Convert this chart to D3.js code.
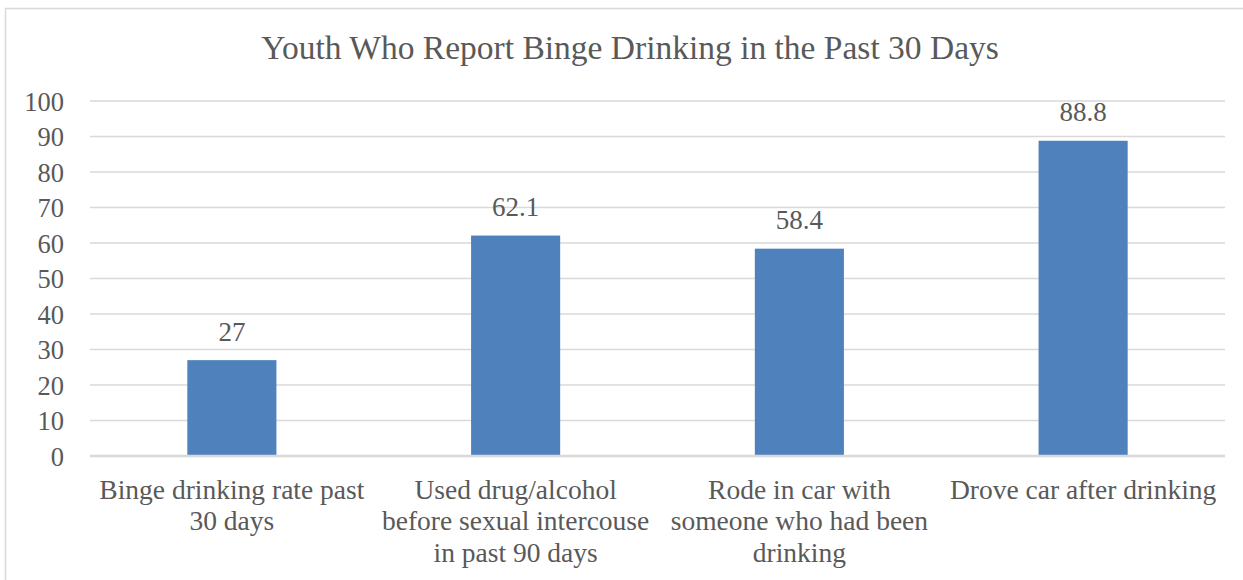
<!DOCTYPE html>
<html><head><meta charset="utf-8">
<script src="https://cdn.jsdelivr.net/npm/d3@7"></script>
<style>body{margin:0;background:#fff;} svg{display:block;} text{font-family:"Liberation Serif","Times New Roman",Times,serif;}</style>
</head><body>
<script>
const categories = [
  ["Binge drinking rate past", "30 days"],
  ["Used drug/alcohol", "before sexual intercouse", "in past 90 days"],
  ["Rode in car with", "someone who had been", "drinking"],
  ["Drove car after drinking"]
];
const values = [27, 62.1, 58.4, 88.8];
const valueLabels = ["27", "62.1", "58.4", "88.8"];
const yTicks = [0,10,20,30,40,50,60,70,80,90,100];
const title = "Youth Who Report Binge Drinking in the Past 30 Days";

(function() {
const W = 1243, H = 580;
const textColor = "#595959";
const svg = d3.select("body").append("svg").attr("width", W).attr("height", H);
svg.append("rect").attr("x", 5.5).attr("y", 8.5).attr("width", W - 4).attr("height", H)
  .attr("fill", "#fff").attr("stroke", "#d9d9d9").attr("stroke-width", 1.5);

const mLeft = 90, mRight = 1225, mTop = 101, mBottom = 456;
const x = d3.scaleBand().domain(d3.range(categories.length)).range([mLeft, mRight]).padding(0);
const y = d3.scaleLinear().domain([0, 100]).range([mBottom, mTop]);

svg.append("text").attr("x", 630).attr("y", 59).attr("text-anchor", "middle")
  .attr("font-size", 33.5).attr("fill", textColor).text(title);

// gridlines
svg.append("g").selectAll("line").data(yTicks.filter(d => d > 0)).join("line")
  .attr("x1", mLeft).attr("x2", mRight).attr("y1", d => y(d)).attr("y2", d => y(d))
  .attr("stroke", "#d9d9d9").attr("stroke-width", 1.5);

// y axis labels
const yAxis = d3.axisLeft(y).tickValues(yTicks).tickSize(0).tickPadding(0);
const ga = svg.append("g").attr("transform", `translate(64,0)`).call(yAxis);
ga.select(".domain").remove();
ga.attr("font-family", null);
ga.selectAll("text").attr("font-size", 26.5).attr("fill", textColor).attr("dy", "0.35em");

// bars
const bw = x.bandwidth() * 0.314;
svg.append("g").selectAll("rect").data(values).join("rect")
  .attr("x", (d, i) => x(i) + x.bandwidth() / 2 - bw / 2)
  .attr("width", bw)
  .attr("y", d => y(d)).attr("height", d => y(0) - y(d))
  .attr("fill", "#4f81bd");

// baseline
svg.append("line").attr("x1", mLeft).attr("x2", mRight).attr("y1", y(0)).attr("y2", y(0))
  .attr("stroke", "#d9d9d9").attr("stroke-width", 2.5);

// value labels
svg.append("g").selectAll("text").data(values).join("text")
  .attr("x", (d, i) => x(i) + x.bandwidth() / 2)
  .attr("y", d => y(d) - 19.5)
  .attr("text-anchor", "middle").attr("font-size", 27).attr("fill", textColor)
  .text((d, i) => valueLabels[i]);

// category labels
const cg = svg.append("g").selectAll("text").data(categories).join("text")
  .attr("text-anchor", "middle").attr("font-size", 27.5).attr("fill", textColor);
cg.each(function(lines, i) {
  d3.select(this).selectAll("tspan").data(lines).join("tspan")
    .attr("x", x(i) + x.bandwidth() / 2)
    .attr("y", (l, j) => 498.5 + j * 31.5)
    .text(l => l);
});
})();
</script>
</body></html>
